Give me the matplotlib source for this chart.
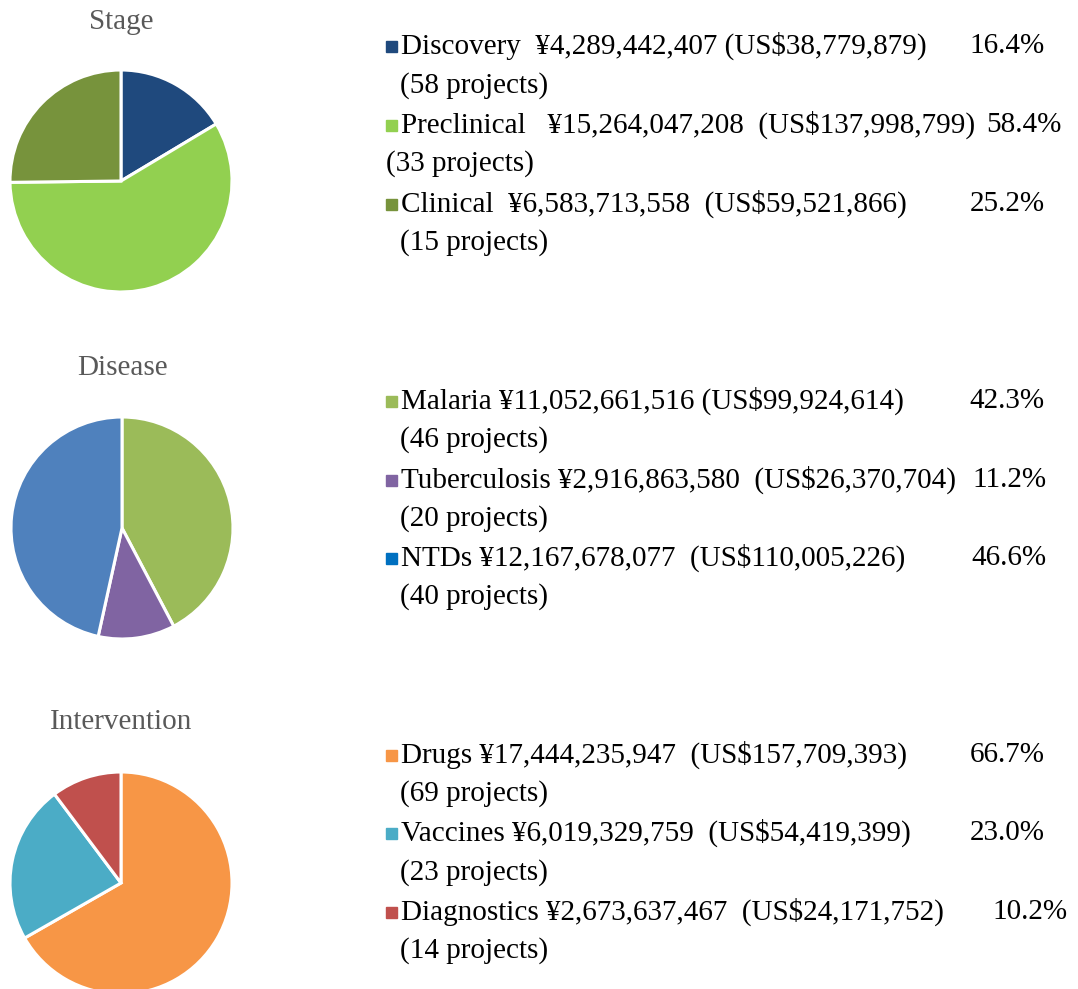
import matplotlib.pyplot as plt
import matplotlib.patches as mpatches

# Stage
stage_labels = ["Discovery", "Preclinical", "Clinical"]
stage_yen = [4289442407, 15264047208, 6583713558]
stage_usd = [38779879, 137998799, 59521866]
stage_pct = [16.4, 58.4, 25.2]
stage_projects = [58, 33, 15]

# Disease
disease_labels = ["Malaria", "Tuberculosis", "NTDs"]
disease_yen = [11052661516, 2916863580, 12167678077]
disease_usd = [99924614, 26370704, 110005226]
disease_pct = [42.3, 11.2, 46.6]
disease_projects = [46, 20, 40]

# Intervention
interv_labels = ["Drugs", "Vaccines", "Diagnostics"]
interv_yen = [17444235947, 6019329759, 2673637467]
interv_usd = [157709393, 54419399, 24171752]
interv_pct = [66.7, 23.0, 10.2]
interv_projects = [69, 23, 14]

W, H = 1078, 989
SERIF = ["Liberation Serif", "DejaVu Serif"]
FS = 21

groups = [
    dict(title="Stage", labels=stage_labels, yen=stage_yen, usd=stage_usd,
         pct=stage_pct, proj=stage_projects,
         colors=["#1F497D", "#92D050", "#77933C"],
         legend_colors=["#1F497D", "#92D050", "#77933C"],
         gaps=[("  ", " "), ("   ", "  "), ("  ", "  ")],
         center=(121, 181), title_y=22, rows=[46, 125, 204], sub=[86, 164, 243],
         sub_x=[400, 386, 400], pct_right=[1045, 1062, 1045]),
    dict(title="Disease", labels=disease_labels, yen=disease_yen, usd=disease_usd,
         pct=disease_pct, proj=disease_projects,
         colors=["#9BBB59", "#8064A2", "#4F81BD"],
         legend_colors=["#9BBB59", "#8064A2", "#0070C0"],
         gaps=[(" ", " "), (" ", "  "), (" ", "  ")],
         center=(122, 528), title_y=368, rows=[401, 480, 558], sub=[440, 519, 597],
         sub_x=[400, 400, 400], pct_right=[1045, 1047, 1047]),
    dict(title="Intervention", labels=interv_labels, yen=interv_yen, usd=interv_usd,
         pct=interv_pct, proj=interv_projects,
         colors=["#F79646", "#4BACC6", "#C0504D"],
         legend_colors=["#F79646", "#4BACC6", "#C0504D"],
         gaps=[(" ", "  "), (" ", "  "), (" ", "  ")],
         center=(121, 883), title_y=722, rows=[755, 833, 912], sub=[794, 873, 951],
         sub_x=[400, 400, 400], pct_right=[1045, 1045, 1068]),
]

fig = plt.figure(figsize=(W / 100, H / 100), dpi=100)
fig.patch.set_facecolor("white")

# overlay in pixel coordinates for text
ov = fig.add_axes([0, 0, 1, 1])
ov.set_xlim(0, W)
ov.set_ylim(H, 0)
ov.axis("off")

R = 111
for g in groups:
    cx, cy = g["center"]
    ax = fig.add_axes([(cx - R) / W, 1 - (cy + R) / H, 2 * R / W, 2 * R / H])
    ax.pie(g["yen"], colors=g["colors"], startangle=90, counterclock=False,
           wedgeprops=dict(edgecolor="white", linewidth=2.2))
    ax.set_xlim(-1, 1)
    ax.set_ylim(-1, 1)
    ax.set_aspect("equal")
    ax.patch.set_visible(False)

    ov.text(cx, g["title_y"], g["title"], family=SERIF, fontsize=21,
            color="#595959", ha="center", va="center")

    for i, lbl in enumerate(g["labels"]):
        y = g["rows"][i]
        g1, g2 = g["gaps"][i]
        ov.add_patch(mpatches.Rectangle((386, y - 5), 11, 11,
                                        color=g["legend_colors"][i]))
        ov.text(401, y, f"{lbl}{g1}¥{g['yen'][i]:,}{g2}(US${g['usd'][i]:,})",
                family=SERIF, fontsize=FS, color="black", ha="left", va="center")
        ov.text(g["pct_right"][i], y, f"{g['pct'][i]:.1f}%", family=SERIF,
                fontsize=FS, color="black", ha="right", va="center")
        ov.text(g["sub_x"][i], g["sub"][i], f"({g['proj'][i]} projects)",
                family=SERIF, fontsize=FS, color="black", ha="left", va="center")

fig.savefig("out.png", dpi=100)
